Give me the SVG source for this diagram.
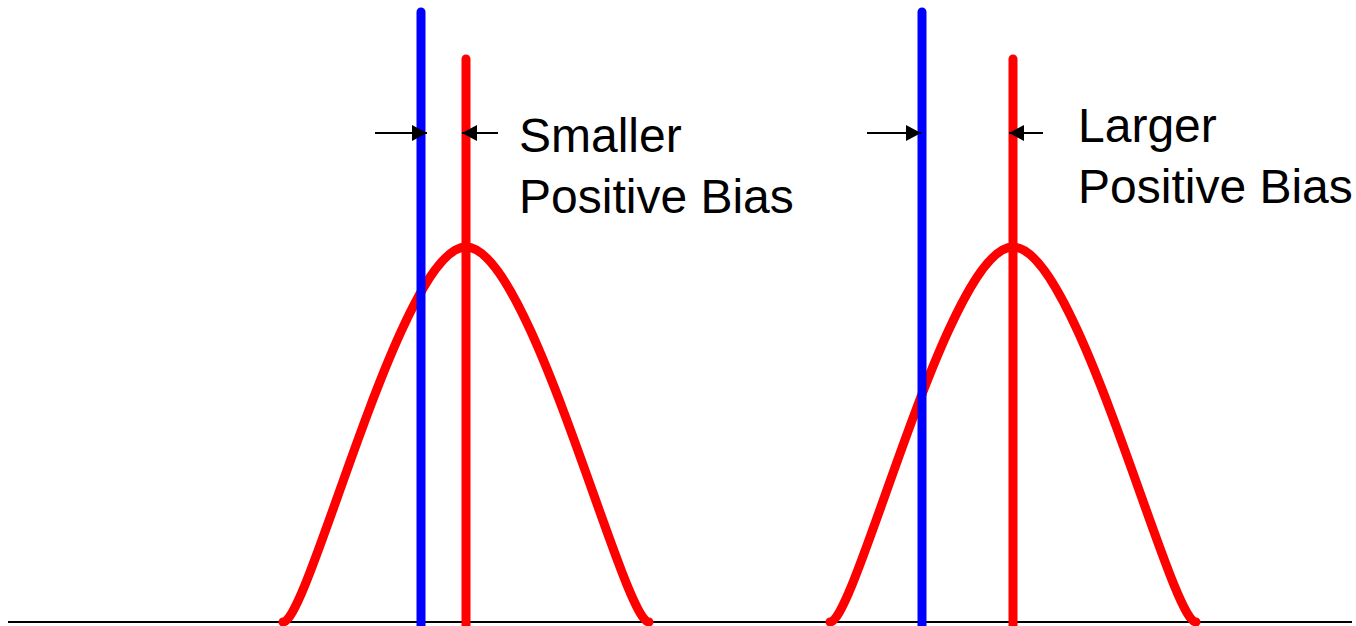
<svg xmlns="http://www.w3.org/2000/svg" width="1356" height="626" viewBox="0 0 1356 626">
<style>
.axis{stroke:#000;stroke-width:2;fill:none}
.curve{stroke:#ff0000;stroke-width:9;fill:none;stroke-linecap:round}
.red{stroke:#ff0000;stroke-width:9;stroke-linecap:round}
.blue{stroke:#0000ff;stroke-width:9;stroke-linecap:round}
.arr{stroke:#000;stroke-width:2;fill:none}
.lbl{font-family:"Liberation Sans",Arial,sans-serif;font-size:48px;fill:#000}
</style>
<defs>
<marker id="ah" viewBox="0 0 15 16" refX="15" refY="8" markerWidth="15" markerHeight="16" markerUnits="userSpaceOnUse" orient="auto">
<path d="M0,0 L15,8 L0,16 Z" fill="#000"/>
</marker>
</defs>
<rect width="1356" height="626" fill="#fff"/>
<line class="axis" x1="8" y1="622" x2="1352" y2="622"/>
<g id="dist1">
<path class="curve" d="M283,622 C309,622 401,247 466,247 C531,247 623,622 649,622"/>
<line class="blue" x1="421" y1="12" x2="421" y2="630"/>
<line class="red" x1="466" y1="59" x2="466" y2="630"/>
</g>
<g id="dist2">
<path class="curve" d="M830,622 C856,622 948,247 1013,247 C1078,247 1170,622 1196,622"/>
<line class="blue" x1="922" y1="12" x2="922" y2="630"/>
<line class="red" x1="1013" y1="59" x2="1013" y2="630"/>
</g>
<g id="connectors">
<line class="arr" x1="375" y1="133" x2="427" y2="133" marker-end="url(#ah)"/>
<line class="arr" x1="498" y1="133" x2="462" y2="133" marker-end="url(#ah)"/>
<line class="arr" x1="867" y1="133" x2="921" y2="133" marker-end="url(#ah)"/>
<line class="arr" x1="1043" y1="133" x2="1009" y2="133" marker-end="url(#ah)"/>
</g>
<g id="label1">
<text class="lbl" x="519" y="152">Smaller</text>
<text class="lbl" x="519" y="213">Positive Bias</text>
</g>
<g id="label2">
<text class="lbl" x="1078" y="142">Larger</text>
<text class="lbl" x="1078" y="203">Positive Bias</text>
</g>
</svg>
